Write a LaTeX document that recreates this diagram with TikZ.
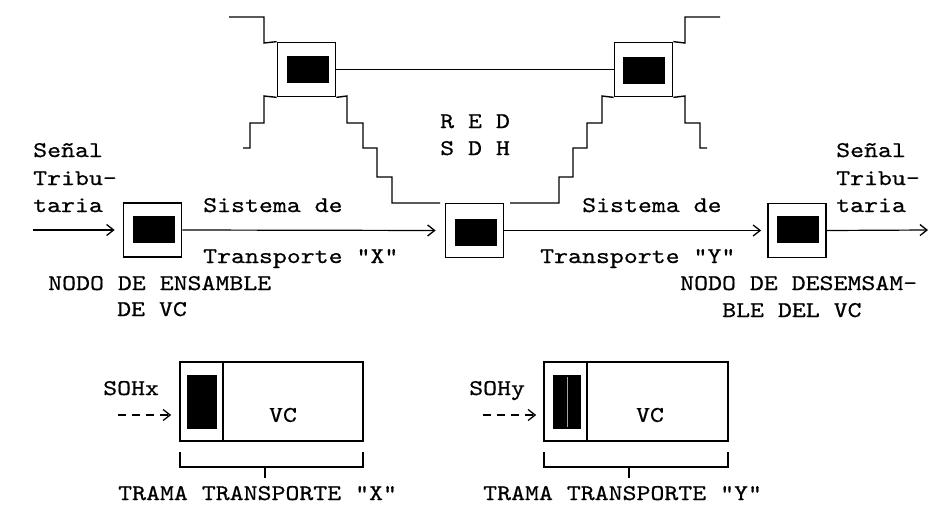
\documentclass[tikz,border=0pt]{standalone}
\usepackage{fontspec}
\newfontfamily\monof[Extension=.otf, FakeStretch=1.18, FakeBold=0.6]{lmmono10-regular}
\usetikzlibrary{arrows.meta}
\begin{document}
\begin{tikzpicture}[x=1pt,y=-1pt,
  ln/.style={line width=1.4pt},
  nodebox/.style={draw, line width=1.7pt, minimum width=58pt, minimum height=54pt, inner sep=0pt},
  blk/.style={fill=black, minimum width=42pt, minimum height=27pt, inner sep=0pt},
  txt/.style={font=\monof\fontsize{22.5}{27}\selectfont, inner sep=0pt, anchor=base west},
  arr/.style={line width=1.2pt, -{Straight Barb[length=7pt,width=11pt,line width=1.3pt]}},
  darr/.style={line width=1.3pt, dash pattern=on 8pt off 6pt, -{Straight Barb[length=7pt,width=11pt,line width=1.3pt]}},
]
\useasboundingbox (0,0) rectangle (939,523);

% main nodes
\node[nodebox] (na) at (152.5,230) {};
\node[blk] (nab) at (154,229) {};
\node[nodebox] (nb) at (474.5,230.5) {};
\node[blk] (nbb) at (476,232.5) {};
\node[nodebox] (nc) at (797,230.5) {};
\node[blk] (ncb) at (797.5,229.5) {};
\node[nodebox] (tl) at (306.5,69.5) {};
\node[blk] (tlb) at (307.5,69.5) {};
\node[nodebox] (tr) at (643.5,69.5) {};
\node[blk] (trb) at (643.5,70.5) {};

% main line
\coordinate (in0) at (33,230);
\coordinate (out0) at (928,230);
\draw[arr, shorten >=8pt] (in0) -- (na.west);
\draw[arr, shorten >=9pt] (na.east) -- (nb.west);
\draw[arr, shorten >=6pt] (nb.east) -- (nc.west);
\draw[arr] (nc.east) -- (out0);

% ring link
\draw[ln] (tl.east) -- (tr.west);

% staircases around top-left node
\draw[ln] (229,17) -- (264,17) -- (264,43) -- (tl.north west);
\draw[ln] (tl.south west) -- (264,96) -- (264,123) -- (250,123) -- (250,148) -- (243,148);
\draw[ln] (tl.south east) -- (347,96) -- (347,123) -- (363,123) -- (363,148) -- (377,148)
  -- (377,177) -- (392,177) -- (392,203) -- (440,203);
% staircases around top-right node
\draw[ln] (tr.north east) -- (685,43) -- (685,17) -- (720,17);
\draw[ln] (tr.south east) -- (685,96) -- (685,123) -- (700,123) -- (700,148) -- (707,148);
\draw[ln] (tr.south west) -- (602,96) -- (602,123) -- (587,123) -- (587,148) -- (573,148)
  -- (573,177) -- (559,177) -- (559,203) -- (510,203);

% texts
\node[txt] (s1) at (33,157) {Señal};
\node[txt] (s2) at (33,185) {Tribu-};
\node[txt] (s3) at (33,212) {taria};
\node[txt] (r1) at (836,157) {Señal};
\node[txt] (r2) at (836,185) {Tribu-};
\node[txt] (r3) at (836,212) {taria};
\node[txt] (sx1) at (203,212) {Sistema de};
\node[txt] (sx2) at (203,263) {Transporte "X"};
\node[txt] (sy1) at (582,212) {Sistema de};
\node[txt] (sy2) at (540,263) {Transporte "Y"};
\node[txt] (red1) at (440,128) {R E D};
\node[txt] (red2) at (440,155) {S D H};
\node[txt] (ne1) at (48,290) {NODO DE ENSAMBLE};
\node[txt] (ne2) at (117,316) {DE VC};
\node[txt] (nd1) at (680,290) {NODO DE DESEMSAM-};
\node[txt] (nd2) at (722,317) {BLE DEL VC};

% frame X
\node[draw, line width=1.7pt, minimum width=183pt, minimum height=79pt, inner sep=0pt] (fx) at (271.5,401.5) {};
\draw[line width=1.7pt] (223,362) -- (223,441);
\node[fill=black, minimum width=30pt, minimum height=54pt, inner sep=0pt] (fxb) at (202,402) {};
\node[font=\monof\fontsize{22.5}{27}\selectfont, inner sep=0pt] (vcx) at (283,415) {VC};
\node[txt] (sohx) at (103,395) {SOHx};
\coordinate (dx) at (118,415);
\draw[darr, shorten >=8pt] (dx) -- (fx.west |- dx);
\draw[ln] (180,452) -- (180,467) -- (363,467) -- (363,452);
\draw[ln] (265,467) -- (265,478);
\node[txt] (tx) at (118,500) {TRAMA TRANSPORTE "X"};

% frame Y
\node[draw, line width=1.7pt, minimum width=184pt, minimum height=79pt, inner sep=0pt] (fy) at (636,401.5) {};
\draw[line width=1.7pt] (587,362) -- (587,441);
\node[fill=black, minimum width=28pt, minimum height=54pt, inner sep=0pt] (fyb) at (567,402) {};
\draw[gray!70, line width=0.6pt] (567,377) -- (567,427);
\node[font=\monof\fontsize{22.5}{27}\selectfont, inner sep=0pt] (vcy) at (650,415) {VC};
\node[txt] (sohy) at (469,395) {SOHy};
\coordinate (dy) at (483,415);
\draw[darr, shorten >=7pt] (dy) -- (fy.west |- dy);
\draw[ln] (544,452) -- (544,467) -- (728,467) -- (728,452);
\draw[ln] (629,467) -- (629,478);
\node[txt] (ty) at (483,500) {TRAMA TRANSPORTE "Y"};
\end{tikzpicture}
\end{document}
